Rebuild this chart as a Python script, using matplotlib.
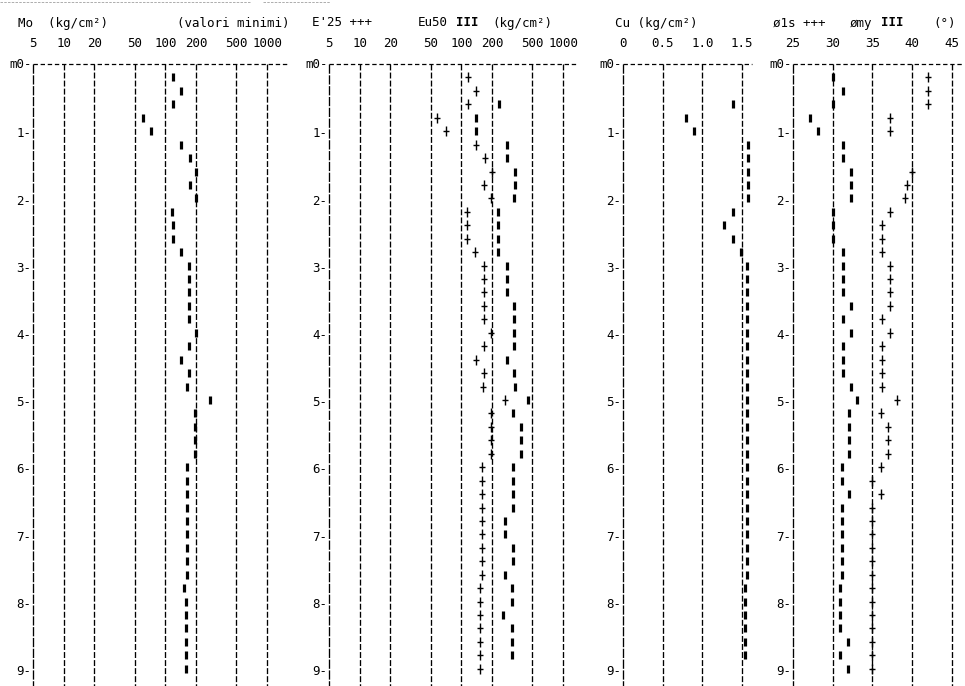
import matplotlib

matplotlib.use("Agg")

import matplotlib.pyplot as plt
import numpy as np
from matplotlib.lines import Line2D
from matplotlib.path import Path

nan = np.nan

# depth of each reading (m)
depth = [0.2, 0.4, 0.6, 0.8, 1.0, 1.2, 1.4, 1.6, 1.8, 2.0,
         2.2, 2.4, 2.6, 2.8, 3.0, 3.2, 3.4, 3.6, 3.8, 4.0,
         4.2, 4.4, 4.6, 4.8, 5.0, 5.2, 5.4, 5.6, 5.8, 6.0,
         6.2, 6.4, 6.6, 6.8, 7.0, 7.2, 7.4, 7.6, 7.8, 8.0,
         8.2, 8.4, 8.6, 8.8, 9.0]

# Mo (kg/cm2), valori minimi
mo = [119, 143, 119, 60, 72, 143, 175, 200, 175, 200,
      117, 119, 119, 143, 170, 170, 170, 170, 170, 200,
      170, 143, 170, 163, 275, 195, 195, 195, 195, 163,
      163, 163, 163, 163, 163, 163, 163, 163, 152, 158,
      158, 158, 160, 158, 158]

# E'25 (+++) and Eu50 (III), kg/cm2
e25 = [116, 139, 116, 58, 71, 139, 171, 200, 167, 195,
       114, 114, 114, 136, 167, 167, 167, 167, 167, 195,
       167, 139, 167, 164, 269, 195, 195, 195, 195, 158,
       158, 158, 158, 158, 158, 158, 158, 158, 152, 152,
       152, 152, 152, 152, 152]
eu50 = [nan, nan, 235, 139, 139, 281, 281, 337, 337, 330,
        230, 230, 230, 230, 281, 281, 281, 330, 330, 330,
        330, 281, 330, 337, 453, 322, 386, 386, 386, 322,
        322, 322, 322, 269, 269, 322, 322, 269, 315, 315,
        257, 315, 315, 315, nan]

# Cu (kg/cm2)
cu = [nan, nan, 1.39, 0.79, 0.90, 1.58, 1.58, 1.58, 1.58, 1.58,
      1.39, 1.27, 1.39, 1.49, 1.56, 1.56, 1.56, 1.56, 1.56, 1.56,
      1.56, 1.56, 1.56, 1.56, 1.56, 1.56, 1.56, 1.56, 1.56, 1.56,
      1.56, 1.56, 1.56, 1.56, 1.56, 1.56, 1.56, 1.56, 1.54, 1.54,
      1.54, 1.54, 1.54, 1.54, nan]

# friction angle (deg): phi 1s (+++) and phi my (III)
phi_1s = [42, 42, 42, 37.2, 37.2, nan, nan, 40, 39.3, 39.1,
          37.2, 36.2, 36.2, 36.2, 37.2, 37.2, 37.2, 37.2, 36.2, 37.2,
          36.2, 36.2, 36.2, 36.2, 38.1, 36.1, 37.0, 37.0, 37.0, 36.1,
          35, 36.1, 35, 35, 35, 35, 35, 35, 35, 35,
          35, 35, 35, 35, 35]
phi_my = [30.0, 31.3, 30.0, 27.1, 28.1, 31.3, 31.3, 32.3, 32.3, 32.3,
          30.0, 30.0, 30.0, 31.3, 31.3, 31.3, 31.3, 32.3, 31.3, 32.3,
          31.3, 31.3, 31.3, 32.3, 33.1, 32.0, 32.0, 32.0, 32.0, 31.2,
          31.2, 32.0, 31.2, 31.2, 31.2, 31.2, 31.2, 31.2, 30.9, 30.9,
          30.9, 30.9, 31.9, 30.9, 31.9]

log_ticks = [5, 10, 20, 50, 100, 200, 500, 1000]
log_labels = ["5", "10", "20", "50", "100", "200", "500", "1000"]
cu_ticks = [0, 0.5, 1.0, 1.5]
cu_labels = ["0", "0.5", "1.0", "1.5"]
phi_ticks = [25, 30, 35, 40, 45]
phi_labels = ["25", "30", "35", "40", "45"]
depth_labels = ["m0-", "1-", "2-", "3-", "4-", "5-", "6-", "7-", "8-", "9-"]

W, H = 965, 686
TOP = 64
D_MAX = (H - TOP) / 67.2
MONO = "DejaVu Sans Mono"
FS = 9


def fx(px):
    return px / W


def fy(py):
    return 1 - py / H


fig = plt.figure(figsize=(W / 100, H / 100), dpi=100)
fig.patch.set_facecolor("white")

# faint remains of the header rule at the very top
for x0, x1 in [(0, 250), (263, 330)]:
    fig.add_artist(Line2D([fx(x0), fx(x1)], [fy(2), fy(2)], transform=fig.transFigure,
                          color="#a0a0a0", lw=0.6, ls=(0, (3, 1.5))))

panels = [
    (33, 287, (5, 1570), "log", log_ticks, log_labels),
    (329, 577, (5, 1370), "log", log_ticks, log_labels),
    (623, 752, (0, 1.627), "linear", cu_ticks, cu_labels),
    (793, 962, (25, 46.26), "linear", phi_ticks, phi_labels),
]

axes = []
for left, right, xlim, scale, ticks, labels in panels:
    ax = fig.add_axes([fx(left), 0, fx(right) - fx(left), fy(TOP)])
    ax.set_xscale(scale)
    ax.set_xlim(*xlim)
    ax.set_ylim(D_MAX, 0)
    ax.axis("off")
    ax.plot(xlim, [0, 0], color="k", lw=0.9, ls=(0, (3.5, 2.2)), clip_on=False)
    for i, t in enumerate(ticks):
        dash = (0, (7, 1.2)) if i == 0 else (0, (4.5, 1.6))
        ax.plot([t, t], [0, D_MAX], color="k", lw=0.95, ls=dash, clip_on=False)
        ax.text(t, -0.31, labels[i], ha="center", va="center", fontsize=FS, family=MONO)
    for d, lab in enumerate(depth_labels):
        off = 0 if d == 0 else -2
        ax.annotate(lab, xy=(xlim[0], d), xytext=(-1, off), textcoords="offset points",
                    ha="right", va="center", fontsize=FS, family=MONO, annotation_clip=False)
    axes.append(ax)

# printer-style cross: taller than wide
tall_plus = Path([(0, -1), (0, 1), (-0.65, 0.1), (0.65, 0.1)],
                 [Path.MOVETO, Path.LINETO, Path.MOVETO, Path.LINETO])

bar = dict(ls="none", marker="|", ms=6, mew=2.3, color="k", clip_on=False)
cross = dict(ls="none", marker=tall_plus, ms=6.5, mew=1.0, color="k", clip_on=False)

axes[0].plot(mo, depth, **bar)
axes[1].plot(e25, depth, **cross)
axes[1].plot(eu50, depth, **bar)
axes[2].plot(cu, depth, **bar)
axes[3].plot(phi_1s, depth, **cross)
axes[3].plot(phi_my, depth, **bar)

headers = [
    ("Mo  (kg/cm²)", 18, "normal"),
    ("(valori minimi)", 177, "normal"),
    ("E'25 +++", 312, "normal"),
    ("Eu50", 418, "normal"),
    ("III", 456, "bold"),
    ("(kg/cm²)", 492, "normal"),
    ("Cu (kg/cm²)", 615, "normal"),
    ("ø1s +++", 773, "normal"),
    ("ømy", 850, "normal"),
    ("III", 881, "bold"),
    ("(°)", 933, "normal"),
]
for txt, x, weight in headers:
    fig.text(fx(x), fy(23), txt, ha="left", va="center", fontsize=FS, family=MONO,
             fontweight=weight)

fig.savefig("out.png", dpi=100, facecolor="white")
plt.close(fig)
